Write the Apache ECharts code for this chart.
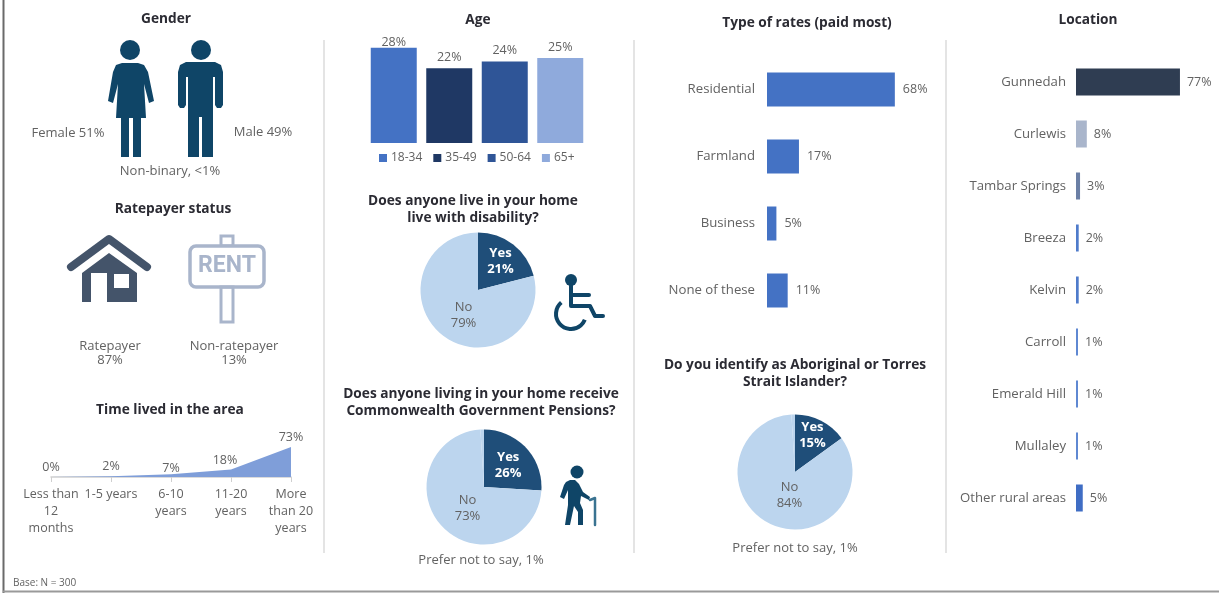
<!DOCTYPE html>
<html>
<head>
<meta charset="utf-8">
<style>html,body{margin:0;padding:0;background:#fff}#c{width:1219px;height:593px}</style>
<script src="https://cdn.jsdelivr.net/npm/echarts@6/dist/echarts.min.js"></script>
</head>
<body>
<div id="c"></div>
<script>
// ---- data ----
const tenureCats = ['Less than\n12\nmonths', '1-5 years', '6-10\nyears', '11-20\nyears', 'More\nthan 20\nyears'];
const tenureVals = [0, 2, 7, 18, 73];
const ageCats = ['18-34', '35-49', '50-64', '65+'];
const ageVals = [28, 22, 24, 25];
const rateCats = ['Residential', 'Farmland', 'Business', 'None of these'];
const rateVals = [68, 17, 5, 11];
const locCats = ['Gunnedah', 'Curlewis', 'Tambar Springs', 'Breeza', 'Kelvin', 'Carroll', 'Emerald Hill', 'Mullaley', 'Other rural areas'];
const locVals = [77, 8, 3, 2, 2, 1, 1, 1, 5];
const disabilityVals = [21, 79];
const pensionVals = [26, 73, 1];
const indigenousVals = [15, 84, 1];

const FONT = '"Open Sans", sans-serif';
const TXT = '#626262', HEAD = '#2b2b33', NAVY = '#0f4567';
const ageColors = ['#4472c4', '#1f3864', '#2f5597', '#8faadc'];
const locColors = ['#2f3d52', '#a9b5cb', '#6b7fa5', '#4f7bcb', '#4f7bcb', '#5f88d2', '#5f88d2', '#5f88d2', '#3f6dc4'];
const tenureLabelShift = [[0, 0], [0, 0], [0, 4], [-6, 0], [0, 0]];

const headings = [
  ['Gender', 166, 19], ['Ratepayer status', 173, 209], ['Time lived in the area', 170, 410],
  ['Age', 478, 20], ['Does anyone live in your home\nlive with disability?', 473, 209.5],
  ['Does anyone living in your home receive\nCommonwealth Government Pensions?', 481, 402.5],
  ['Type of rates (paid most)', 807, 23], ['Location', 1088, 20],
  ['Do you identify as Aboriginal or Torres\nStrait Islander?', 795, 373.5]
];
const notes = [
  ['Female 51%', 68, 133], ['Male 49%', 263, 132], ['Non-binary, <1%', 170, 171],
  ['Ratepayer\n87%', 110, 353], ['Non-ratepayer\n13%', 234, 353],
  ['Prefer not to say, 1%', 481, 560], ['Prefer not to say, 1%', 795, 548]
];

function txt(t) {
  return { type: 'text', x: t[1], y: t[2], style: { text: t[0], fill: TXT, font: '13px ' + FONT, align: 'center', verticalAlign: 'middle', lineHeight: 14 } };
}
function rule(x, y1, y2, color, w) {
  return { type: 'line', shape: { x1: x, y1: y1, x2: x, y2: y2 }, style: { stroke: color, lineWidth: w } };
}
function solid(pts, fill) { return { type: 'polygon', shape: { points: pts }, style: { fill: fill } }; }
function stroke(pts, color, w) { return { type: 'polyline', shape: { points: pts }, style: { fill: 'none', stroke: color, lineWidth: w, lineCap: 'round', lineJoin: 'round' } }; }
function dot(cx, cy, r, fill) { return { type: 'circle', shape: { cx: cx, cy: cy, r: r }, style: { fill: fill } }; }

const womanShape = [[122,63],[138,63],[144,65],[148,72],[154,101],[149,103],[144,84],[146,118],[141,118],[141,157],[133,157],[133,118],[129,118],[129,157],[121,157],[121,118],[116,118],[118,84],[113,103],[108,101],[113,72],[116,65]];
const manShape = [[186,62],[215,62],[221,65],[223,72],[223,105],[221,108],[217,108],[215,105],[215,77],[213,77],[213,157],[202,157],[202,117],[199,117],[199,157],[188,157],[188,77],[186,77],[186,105],[184,108],[180,108],[178,105],[178,72],[180,65]];
const caneManShape = [[570,480],[575,480],[579,484],[583,492],[590,497],[589,500],[581,496],[580,503],[583,510],[583,525],[578,525],[578,512],[574,506],[570,525],[565,525],[568,505],[568,490],[564,499],[560,497],[564,485],[566,482]];

const icons = [
  dot(130, 50, 10, NAVY), solid(womanShape, NAVY),
  dot(201, 50, 10, NAVY), solid(manShape, NAVY),
  // house
  stroke([[71,267],[109,239],[147,267]], '#44546a', 8),
  solid([[109,253],[137,273],[137,302],[107,302],[107,273],[91,273],[91,302],[82,302],[82,273]], '#44546a'),
  { type: 'rect', shape: { x: 114, y: 274, width: 15, height: 14 }, style: { fill: '#fff' } },
  // rent sign
  { type: 'rect', shape: { x: 221, y: 236, width: 12, height: 10 }, style: { fill: 'none', stroke: '#a9b5cb', lineWidth: 3 } },
  { type: 'rect', shape: { x: 190, y: 246, width: 74, height: 41, r: 6 }, style: { fill: '#fff', stroke: '#a9b5cb', lineWidth: 3.5 } },
  { type: 'rect', shape: { x: 221, y: 287, width: 12, height: 35 }, style: { fill: 'none', stroke: '#a9b5cb', lineWidth: 3 } },
  { type: 'text', x: 227, y: 266, style: { text: 'RENT', fill: '#a9b5cb', font: 'bold 23px Roboto', align: 'center', verticalAlign: 'middle' } },
  // wheelchair
  dot(571, 280, 6, NAVY),
  stroke([[571,285],[571,306],[590,306],[595,316],[603,316]], NAVY, 4),
  stroke([[571,295],[589,295]], NAVY, 4),
  { type: 'arc', shape: { cx: 571, cy: 314, r: 15, startAngle: 4.01, endAngle: 0.40, clockwise: false }, style: { fill: 'none', stroke: NAVY, lineWidth: 4 } },
  // person with cane
  dot(577, 472, 6.5, NAVY), solid(caneManShape, NAVY),
  stroke([[590,500],[595,498],[595,525]], '#3a7391', 2.5)
];

const frame = [
  rule(324, 40, 553, '#e4e4e4', 2), rule(634, 40, 553, '#e4e4e4', 2), rule(946, 40, 553, '#e4e4e4', 2),
  rule(3.5, 0, 593, '#6a6a6a', 2),
  { type: 'line', shape: { x1: 3, y1: 591.5, x2: 1219, y2: 591.5 }, style: { stroke: '#9a9a9a', lineWidth: 2 } },
  { type: 'text', x: 13, y: 583, style: { text: 'Base: N = 300', fill: TXT, font: '10px ' + FONT, align: 'left', verticalAlign: 'middle' } }
];

function pie(vals, cx, cy, shifts) {
  return {
    type: 'pie', center: [cx, cy], radius: 57.5, startAngle: 90, clockwise: true, silent: true,
    animation: false, minAngle: 0, avoidLabelOverlap: false,
    label: { position: 'inside', formatter: '{b}\n{c}%', fontFamily: FONT, fontSize: 13, lineHeight: 16, color: TXT },
    labelLine: { show: false },
    labelLayout: function (p) { const s = shifts[p.dataIndex] || [0, 0]; return { dx: s[0], dy: s[1] }; },
    data: vals.map(function (v, i) {
      return i === 0
        ? { name: 'Yes', value: v, itemStyle: { color: '#1f4e79' }, label: { color: '#fff', fontWeight: 'bold' } }
        : i === 1
          ? { name: 'No', value: v, itemStyle: { color: '#bcd5ee' } }
          : { name: 'Prefer not to say', value: v, itemStyle: { color: '#bcd5ee' }, label: { show: false } };
    })
  };
}

const option = {
  animation: false,
  backgroundColor: '#fff',
  textStyle: { fontFamily: FONT },
  title: headings.map(function (h) {
    return { text: h[0], left: h[1], top: h[2], textAlign: 'center', textVerticalAlign: 'middle', padding: 0,
      textStyle: { fontFamily: FONT, fontSize: 13.7, fontWeight: 'bold', color: HEAD, lineHeight: 17 } };
  }),
  legend: {
    data: ageCats, left: 379, top: 152, itemWidth: 8, itemHeight: 8, itemGap: 11, icon: 'rect', selectedMode: false, padding: 0,
    textStyle: { fontFamily: FONT, fontSize: 12, color: TXT, padding: [0, 0, 0, -1] }
  },
  grid: [
    { left: 51, top: 427, width: 240, height: 50 },
    { left: 366, top: 41, width: 222, height: 102 },
    { left: 767, top: 56, width: 188, height: 268 },
    { left: 1076, top: 56, width: 135, height: 468 }
  ],
  xAxis: [
    { gridIndex: 0, type: 'category', data: tenureCats, boundaryGap: false,
      axisLine: { lineStyle: { color: '#cfcfcf', width: 1.5 } }, axisTick: { show: true, length: 5, lineStyle: { color: '#cfcfcf' } },
      axisLabel: { interval: 0, color: TXT, fontFamily: FONT, fontSize: 12.5, lineHeight: 17, margin: 9 } },
    { gridIndex: 1, type: 'category', data: ageCats, show: false },
    { gridIndex: 2, type: 'value', min: 0, max: 100, show: false },
    { gridIndex: 3, type: 'value', min: 0, max: 100, show: false }
  ],
  yAxis: [
    { gridIndex: 0, type: 'value', min: 0, max: 122, show: false },
    { gridIndex: 1, type: 'value', min: 0, max: 30, show: false },
    { gridIndex: 2, type: 'category', data: rateCats, inverse: true,
      axisLine: { show: false }, axisTick: { show: false }, axisLabel: { color: TXT, fontFamily: FONT, fontSize: 13.2, margin: 12 } },
    { gridIndex: 3, type: 'category', data: locCats, inverse: true,
      axisLine: { show: false }, axisTick: { show: false }, axisLabel: { interval: 0, color: TXT, fontFamily: FONT, fontSize: 13.2, margin: 10 } }
  ],
  series: [
    { type: 'line', xAxisIndex: 0, yAxisIndex: 0, data: tenureVals, showSymbol: true, showAllSymbol: true, symbolSize: 0,
      lineStyle: { width: 0 }, areaStyle: { color: '#7f9ed9', opacity: 1 },
      labelLayout: function (p) { const s = tenureLabelShift[p.dataIndex]; return { dx: s[0], dy: s[1] }; },
      label: { show: true, position: 'top', distance: 3, formatter: '{c}%', color: TXT, fontFamily: FONT, fontSize: 12.5 } }
  ].concat(ageCats.map(function (c, i) {
    return { type: 'bar', name: c, xAxisIndex: 1, yAxisIndex: 1, stack: 'age', barWidth: 46,
      itemStyle: { color: ageColors[i] },
      data: ageVals.map(function (v, j) { return j === i ? v : null; }),
      label: { show: true, position: 'top', distance: i === 0 ? -1 : 4, formatter: '{c}%', color: TXT, fontFamily: FONT, fontSize: 12.5 } };
  })).concat([
    { type: 'bar', xAxisIndex: 2, yAxisIndex: 2, barWidth: 34, data: rateVals, itemStyle: { color: '#4472c4' },
      label: { show: true, position: 'right', distance: 8, formatter: '{c}%', color: TXT, fontFamily: FONT, fontSize: 12.5 } },
    { type: 'bar', xAxisIndex: 3, yAxisIndex: 3, barWidth: 27, barMinHeight: 2,
      data: locVals.map(function (v, i) { return { value: v, itemStyle: { color: locColors[i] } }; }),
      label: { show: true, position: 'right', distance: 7, formatter: '{c}%', color: TXT, fontFamily: FONT, fontSize: 12.5 } },
    pie(disabilityVals, 478, 290, [[3, -4], [5, 0]]),
    pie(pensionVals, 484, 487, [[1, 0], [6, -1]]),
    pie(indigenousVals, 795, 472, [[3, -8], [8, -5]])
  ]),
  graphic: { elements: frame.concat(icons, notes.map(txt)) }
};

const chart = echarts.init(document.getElementById('c'));
chart.setOption(option);
</script>
</body>
</html>
